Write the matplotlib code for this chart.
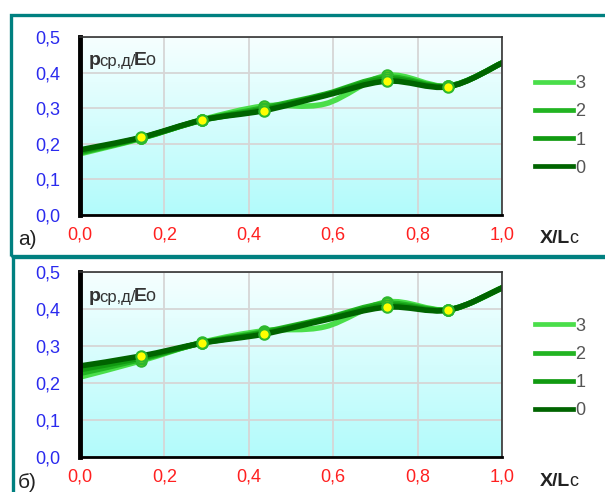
import numpy as np
import matplotlib
matplotlib.use("Agg")
import matplotlib.pyplot as plt
from matplotlib.path import Path
from matplotlib.patches import PathPatch, Rectangle
from matplotlib.lines import Line2D
from matplotlib.colors import LinearSegmentedColormap

plt.rcParams['font.family'] = ['Liberation Sans', 'DejaVu Sans']

# x nodes along the chord, markers only on some of them
x_nodes = [0.0, 0.145, 0.29, 0.435, 0.58, 0.727, 0.872, 1.0]
marker_idx = [1, 2, 3, 5, 6]

series_names = ['0', '1', '2', '3']
series_colors = ['#006400', '#119a11', '#22b422', '#4ade4a']

# panel a)
top_vals = {
    '0': [0.183, 0.218, 0.267, 0.293, 0.335, 0.376, 0.360, 0.427],
    '1': [0.179, 0.217, 0.266, 0.297, 0.337, 0.382, 0.361, 0.427],
    '2': [0.175, 0.216, 0.267, 0.301, 0.339, 0.387, 0.362, 0.427],
    '3': [0.172, 0.215, 0.268, 0.306, 0.312, 0.392, 0.362, 0.427],
}
# panel б)
bot_vals = {
    '0': [0.246, 0.273, 0.308, 0.332, 0.370, 0.405, 0.397, 0.457],
    '1': [0.236, 0.268, 0.308, 0.335, 0.372, 0.410, 0.397, 0.457],
    '2': [0.226, 0.264, 0.309, 0.338, 0.374, 0.415, 0.398, 0.457],
    '3': [0.216, 0.260, 0.310, 0.341, 0.352, 0.419, 0.398, 0.457],
}

x_ticks = [0.0, 0.2, 0.4, 0.6, 0.8, 1.0]
y_ticks = [0.0, 0.1, 0.2, 0.3, 0.4, 0.5]


def smooth_path(xs, ys):
    # Catmull-Rom curve as cubic bezier segments
    pts = np.column_stack([xs, ys])
    ext = np.vstack([pts[0], pts, pts[-1]])
    verts = [pts[0]]
    codes = [Path.MOVETO]
    for i in range(len(pts) - 1):
        p0, p1, p2, p3 = ext[i], ext[i + 1], ext[i + 2], ext[i + 3]
        c1 = p1 + (p2 - p0) / 6
        c2 = p2 - (p3 - p1) / 6
        verts += [c1, c2, p2]
        codes += [Path.CURVE4] * 3
    return Path(verts, codes)


def fmt(v):
    return f'{v:.1f}'.replace('.', ',')


bg_cmap = LinearSegmentedColormap.from_list('bg', ['#b2fbfb', '#f6ffff'])

fig = plt.figure(figsize=(6.05, 4.92), dpi=100)

# teal frames
fig.patches.append(Rectangle((11 / 605, 1 - 256 / 492), 0.99, 241 / 492, transform=fig.transFigure,
                             fill=False, edgecolor='#008080', linewidth=2.4, clip_on=False))
fig.patches.append(Rectangle((13 / 605, -0.05), 0.99, 0.05 + 235 / 492, transform=fig.transFigure,
                             fill=False, edgecolor='#008080', linewidth=2.4, clip_on=False))

panels = [
    (top_vals, [80 / 605, 1 - 215 / 492, 422 / 605, 178 / 492], 'а)', 0.5),
    (bot_vals, [80 / 605, 1 - 457 / 492, 422 / 605, 185 / 492], 'б)', 0.478),
]

for vals, rect, letter, leg_y in panels:
    ax = fig.add_axes(rect)
    ax.set_xlim(0, 1)
    ax.set_ylim(0, 0.5)
    grad = np.linspace(0, 1, 256).reshape(-1, 1)
    ax.imshow(grad, cmap=bg_cmap, extent=[0, 1, 0, 0.5], origin='lower',
              aspect='auto', zorder=0)
    ax.set_xticks(x_ticks)
    ax.set_yticks(y_ticks)
    ax.set_xticklabels([fmt(v) for v in x_ticks], color='#ff2020', fontsize=13)
    ax.set_yticklabels([fmt(v) for v in y_ticks], color='#2a2aee', fontsize=13)
    ax.tick_params(length=0, pad=8)
    ax.tick_params(axis='y', pad=14)
    ax.grid(color='#d6d6d6', linewidth=1.3, zorder=1)
    ax.set_axisbelow(False)
    ax.spines['left'].set_linewidth(3.5)
    ax.spines['bottom'].set_linewidth(2)
    ax.spines['top'].set_linewidth(1.2)
    ax.spines['right'].set_linewidth(1.2)
    ax.spines['top'].set_color('#333333')
    ax.spines['right'].set_color('#333333')
    for s in ax.spines.values():
        s.set_zorder(10)

    handles = {}
    for k, name in enumerate(reversed(series_names)):
        color = series_colors[series_names.index(name)]
        z = 3 + k * 2
        patch = PathPatch(smooth_path(x_nodes, vals[name]), fill=False,
                          edgecolor=color, linewidth=4.0, zorder=z,
                          capstyle='round', joinstyle='round')
        ax.add_patch(patch)
        ax.plot([x_nodes[i] for i in marker_idx], [vals[name][i] for i in marker_idx],
                ls='none', marker='o', ms=7.5, mfc='#ffff00', mec='#2db82d', mew=1.5,
                zorder=z + 1)
        handles[name] = Line2D([], [], color=color, linewidth=3.4)

    order = ['3', '2', '1', '0']
    ax.legend([handles[n] for n in order], order, loc='center left',
              bbox_to_anchor=(1.078, leg_y), frameon=False, fontsize=13,
              handlelength=2.1, handletextpad=0.15, labelspacing=0.62,
              borderpad=0, borderaxespad=0, labelcolor='#555555')

    # y label made of pieces
    t1 = ax.text(0.02, 0.82, 'p', transform=ax.transAxes, fontsize=14,
                 fontweight='bold', color='#333333', va='bottom', zorder=12)
    t2 = ax.annotate('ср,д/', xy=(1, 0), xycoords=t1, xytext=(-1, 0),
                     textcoords='offset points', fontsize=12,
                     color='#333333', va='bottom', zorder=12)
    t3 = ax.annotate('E', xy=(1, 0), xycoords=t2, xytext=(-1, 0),
                     textcoords='offset points', fontsize=14,
                     fontweight='bold', color='#333333', va='bottom', zorder=12)
    ax.annotate('о', xy=(1, 0), xycoords=t3, xytext=(-1, 0),
                textcoords='offset points', fontsize=13,
                color='#333333', va='bottom', zorder=12)

    # x label
    x1 = ax.text(1.09, -0.13, 'X/L', transform=ax.transAxes, fontsize=14,
                 fontweight='bold', color='#222222', va='center')
    ax.annotate('c', xy=(1, 0), xycoords=x1, xytext=(-0.5, 0),
                textcoords='offset points', fontsize=13,
                color='#222222', va='bottom')

    ax.text(-0.147, -0.14, letter, transform=ax.transAxes, fontsize=15,
            color='#222222', va='center')

fig.savefig('out.png', dpi=100)
